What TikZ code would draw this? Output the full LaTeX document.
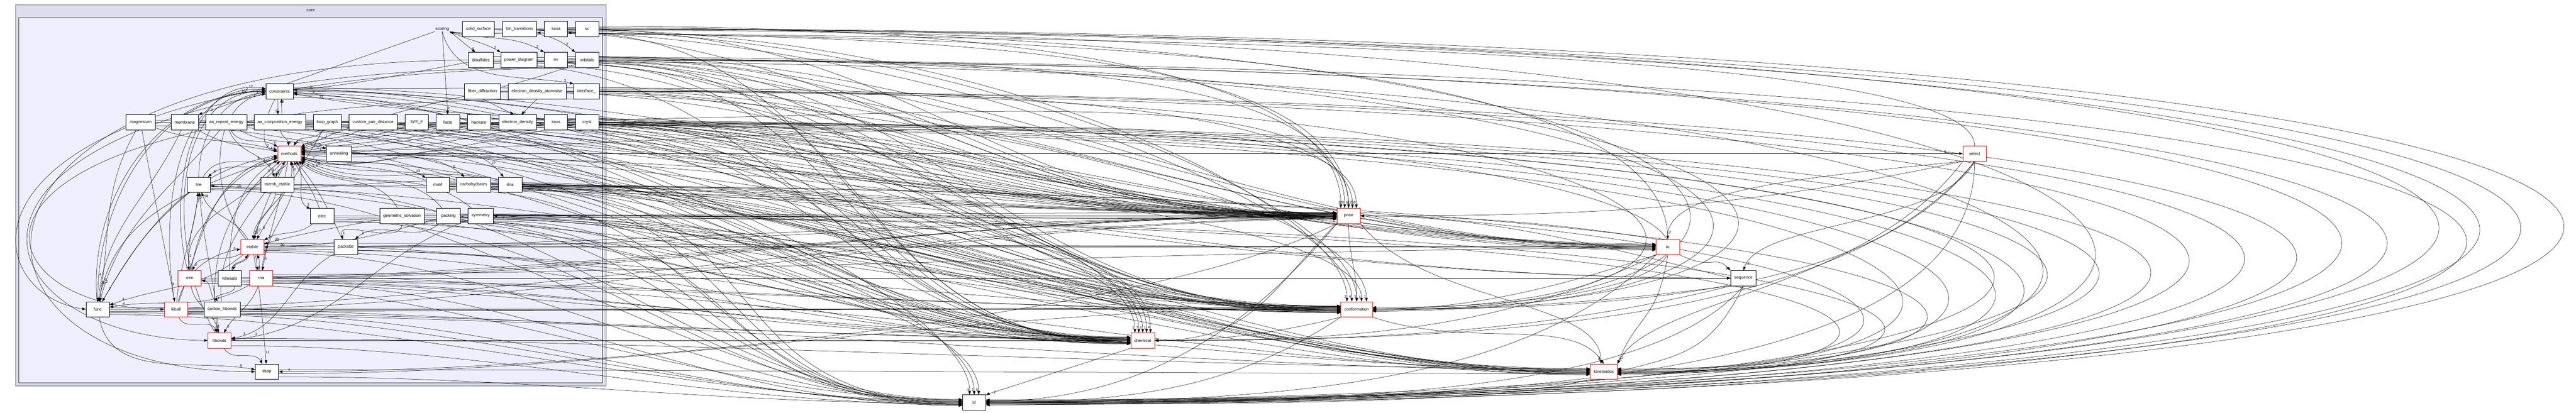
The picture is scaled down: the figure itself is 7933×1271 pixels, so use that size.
\documentclass[tikz,border=0pt]{standalone}
\usepackage{fontspec}
\setmainfont{Liberation Sans}
\usetikzlibrary{arrows.meta}

\definecolor{coreout}{RGB}{221,221,238}
\definecolor{corein}{RGB}{238,238,255}

\pgfdeclarelayer{clusters}
\pgfdeclarelayer{edges}
\pgfsetlayers{clusters,edges,main}

\tikzset{
  dirbox/.style={draw=black, fill=white, line width=1pt, minimum width=72pt, minimum height=47pt, inner xsep=11pt, inner ysep=2pt, font=\fontsize{13}{15}\selectfont},
  dirred/.style={dirbox, draw=red},
  dirname/.style={font=\fontsize{13}{15}\selectfont, inner sep=2pt},
  dep/.style={draw=black, line width=0.8pt, -{Triangle[length=11pt,width=8pt]}},
  depwide/.style={dep, line width=1.4pt},
  cnt/.style={font=\fontsize{11}{11}\selectfont, inner sep=1pt},
}

\begin{document}
\begin{tikzpicture}[x=1pt,y=1pt]
			%%%%% START %%%%%
			\useasboundingbox (0,0) rectangle (7933,-1271);
			
			% core cluster
			\begin{pgfonlayer}{clusters}
			\draw[fill=coreout, draw=black!60, line width=1.2pt] (48,-15) rectangle (1866,-1189);
			\draw[fill=corein, draw=black!80, line width=1.2pt] (57,-54) rectangle (1856,-1179);
			\end{pgfonlayer}
			\node[dirname] (core) at (957,-33) {core};
			
			% scoring and its subdirs
			\node[dirname] (scoring) at (1362,-89) {scoring};
			\node[dirbox] (solidsurface) at (1473,-89) {solid\_surface};
			\node[dirbox] (bintransitions) at (1600,-89) {bin\_transitions};
			\node[dirbox] (sasa) at (1712,-89) {sasa};
			\node[dirbox] (sc) at (1808,-89) {sc};
			
			\node[dirbox] (disulfides) at (1481,-185) {disulfides};
			\node[dirbox] (powerdiagram) at (1598,-185) {power\_diagram};
			\node[dirbox] (nv) at (1712,-185) {nv};
			\node[dirbox] (orbitals) at (1808,-185) {orbitals};
			
			\node[dirbox] (constraints) at (861,-281) {constraints};
			\node[dirbox] (fiberdiffraction) at (1486,-281) {fiber\_diffraction};
			\node[dirbox] (edatomwise) at (1654,-281) {electron\_density\_atomwise};
			\node[dirbox] (interface) at (1806,-281) {interface\_};
			
			\node[dirbox] (magnesium) at (433,-377) {magnesium};
			\node[dirbox] (membrane) at (569,-377) {membrane};
			\node[dirbox] (aarepeat) at (697,-377) {aa\_repeat\_energy};
			\node[dirbox] (aacomp) at (862,-377) {aa\_composition\_energy};
			\node[dirbox] (loopgraph) at (1008,-377) {loop\_graph};
			\node[dirbox] (custompair) at (1149,-377) {custom\_pair\_distance};
			\node[dirbox] (syme) at (1283,-377) {sym\_e};
			\node[dirbox] (facts) at (1379,-377) {facts};
			\node[dirbox] (hackaro) at (1475,-377) {hackaro};
			\node[dirbox] (edensity) at (1594,-377) {electron\_density};
			\node[dirbox] (saxs) at (1712,-377) {saxs};
			\node[dirbox] (cryst) at (1808,-377) {cryst};
			
			\node[dirred] (methods) at (891,-473) {methods};
			\node[dirbox] (annealing) at (1044,-473) {annealing};
			
			\node[dirbox] (trie) at (612,-569) {trie};
			\node[dirbox] (membetable) at (854,-569) {memb\_etable};
			\node[dirbox] (motif) at (1348,-569) {motif};
			\node[dirbox] (carbohydrates) at (1459,-569) {carbohydrates};
			\node[dirbox] (dna) at (1571,-569) {dna};
			
			\node[dirbox] (elec) at (992,-665) {elec};
			\node[dirbox] (geomsolv) at (1238,-665) {geometric\_solvation};
			\node[dirbox] (packing) at (1381,-665) {packing};
			\node[dirbox] (symmetry) at (1480,-665) {symmetry};
			
			\node[dirred] (etable) at (777,-761) {etable};
			\node[dirbox] (packstat) at (1065,-761) {packstat};
			
			\node[dirred] (mm) at (584,-857) {mm};
			\node[dirbox] (vdwaals) at (707,-857) {vdwaals};
			\node[dirred] (rna) at (804,-857) {rna};
			
			\node[dirbox] (func) at (301,-953) {func};
			\node[dirred] (lkball) at (542,-953) {lkball};
			\node[dirbox] (carbonhbonds) at (684,-953) {carbon\_hbonds};
			
			\node[dirred] (hbonds) at (676,-1049) {hbonds};
			\node[dirbox] (dssp) at (822,-1145) {dssp};
			
			% dirs outside core/scoring
			\node[dirred] (select) at (6081,-473) {select};
			\node[dirred] (pose) at (4153,-665) {pose};
			\node[dirred] (io) at (5136,-761) {io};
			\node[dirbox] (sequence) at (5369,-857) {sequence};
			\node[dirred] (conformation) at (4178,-953) {conformation};
			\node[dirred] (chemical) at (3519,-1049) {chemical};
			\node[dirred] (kinematics) at (4939,-1145) {kinematics};
			\node[dirbox] (id) at (3000,-1240) {id};
			
			\begin{pgfonlayer}{edges}
			% scoring
			\draw[dep] (scoring.south east) -- node[cnt,pos=.85,right]{6} (disulfides.125);
			\draw[dep] (scoring.south east) to[out=-25,in=150] node[cnt,pos=.9,above]{2} (powerdiagram.north west);
			\draw[dep] (scoring.south east) to[out=-15,in=150] node[cnt,pos=.93,above]{2} (nv.north west);
			\draw[dep] (scoring.south east) to[out=-10,in=140] node[cnt,pos=.93,above]{2} (orbitals.north west);
			\draw[dep] (scoring.south) to[out=-75,in=170] node[cnt,pos=.95,above]{2} (interface.150);
			\draw[dep] (scoring.south) -- node[cnt,pos=.92,right]{2} (facts.north);
			\draw[dep] (scoring.south west) -- node[cnt,pos=.95,right]{2} (membrane.north east);
			\draw[dep] (fiberdiffraction.south) -- node[cnt,pos=.85,right]{1} (edensity.115);
			\draw[dep] (edatomwise.south) -- node[cnt,pos=.85,right]{1} (edensity.65);
			\draw[dep] ([xshift=-6pt]constraints.south) -- node[cnt,pos=.8,left]{5} ([xshift=-6pt]aacomp.north);
			\draw[dep] ([xshift=6pt]aacomp.north) -- node[cnt,pos=.8,right]{2} ([xshift=6pt]constraints.south);
			
			% inside core
			\foreach \a/\b/\o/\i/\l in {magnesium/methods/-20/165/2, membrane/methods/-30/170/4, aarepeat/methods/-60/150/1,
			  constraints/methods/-120/170/6, trie/methods/60/-160/2, func/methods/60/-170/6, lkball/methods/70/-165/3,
			  mm/methods/80/-160/1, vdwaals/methods/90/-150/2, hbonds/methods/100/-140/5, carbonhbonds/methods/95/-120/1,
			  aacomp/methods/-85/95/9, loopgraph/methods/-120/60/4, custompair/methods/-150/30/1, syme/methods/-160/20/2,
			  facts/methods/-165/15/1, hackaro/methods/-165/10/3, edensity/methods/-170/5/1, saxs/methods/-170/0/2,
			  cryst/methods/-170/-5/1, orbitals/methods/-160/25/1, motif/methods/160/-15/2, carbohydrates/methods/165/-20/3,
			  dna/methods/165/-25/2, geomsolv/methods/120/-40/6, packing/methods/130/-35/5, symmetry/methods/140/-30/2,
			  packstat/methods/115/-50/1, elec/methods/110/-60/19, rna/methods/85/-75/3, etable/methods/80/-80/9,
			  methods/trie/-150/40/8, methods/membetable/-100/95/4, aarepeat/membetable/-70/110/5, aarepeat/annealing/-30/160/1,
			  methods/motif/-15/150/13, methods/carbohydrates/-20/140/2, methods/dna/-20/130/10, methods/elec/-50/150/1,
			  mm/trie/95/-95/10, lkball/trie/85/-95/7, hbonds/trie/95/-85/7, etable/trie/120/-70/58, dna/trie/175/-5/10,
			  methods/etable/-115/75/17, membetable/etable/-100/85/19, loopgraph/etable/-120/60/6, geomsolv/etable/-170/15/39,
			  packing/etable/-165/0/30, elec/etable/-140/30/5, vdwaals/etable/80/-120/2, rna/etable/100/-60/2, lkball/etable/75/-170/5,
			  etable/mm/-150/70/2, methods/mm/-130/95/2, carbonhbonds/mm/130/-10/2,
			  magnesium/func/-120/80/2, constraints/func/180/90/4, methods/func/-160/80/5, membrane/func/-115/85/25,
			  aarepeat/func/-130/75/2, trie/func/-140/60/7, rna/func/-150/10/4, etable/func/-140/20/4,
			  magnesium/lkball/-80/100/8, lkball/hbonds/-70/110/5, mm/hbonds/-80/100/2, rna/hbonds/-110/60/5,
			  packstat/hbonds/-150/10/3, symmetry/hbonds/-160/5/2, hbonds/dssp/-60/120/1, func/dssp/-80/170/6, etable/dssp/-80/95/11,
			  func/constraints/95/180/10, hbonds/constraints/120/180/4, etable/constraints/130/-170/1, lkball/constraints/100/175/2,
			  mm/constraints/105/170/12, trie/constraints/90/-175/1, disulfides/constraints/-170/5/1, edensity/constraints/170/-5/4,
			  cryst/constraints/175/-10/12, packing/packstat/-140/40/2, geomsolv/packstat/-90/110/1, vdwaals/carbonhbonds/-60/120/1,
			  etable/rna/-70/110/2, methods/rna/-100/80/5, etable/vdwaals/-110/70/2}
			  \draw[dep] (\a) to[out=\o,in=\i] node[cnt,pos=.92,above right]{\l} (\b);
			
			% long ones round the left side
			\draw[dep] (disulfides.west) .. controls (-250,-195) and (-200,-1150) .. (dssp.west);
			\draw[dep] (nv.south west) .. controls (-200,-210) and (-100,-900) .. (func.west);
			\draw[dep] (orbitals.south west) .. controls (-350,-225) and (-150,-1040) .. (hbonds.west);
			\draw[dep] (interface.south west) .. controls (-300,-300) and (-100,-950) .. (lkball.west);
			
			% straight ones
			\draw[dep] (annealing) -- (select) node[cnt,pos=.99,above left]{6};
			\draw[dep] (pose) -- (symmetry) node[cnt,pos=.99,below right]{2};
			\draw[dep] (packstat) -- (io);
			\draw[depwide] (carbonhbonds) -- (conformation);
			\draw[depwide] (hbonds) -- (chemical);
			\draw[dep] (rna.east) .. controls +(1500,0) and +(-1500,0) .. (sequence.west);
			
			% over the top
			\draw[dep] (pose.north) .. controls (4153,-112) and (2700,-108) .. ([yshift=-12pt]scoring.east) node[cnt,pos=.99,below]{1};
			\draw[dep] (io.north) .. controls (5136,-130) and (3000,-118) .. ([yshift=-12pt]bintransitions.east) node[cnt,pos=.99,below]{2};
			\draw[dep] (select.north) .. controls (6081,-128) and (3200,-120) .. ([yshift=-12pt]sasa.east) node[cnt,pos=.99,below]{2};
			
			% to pose
			\foreach \s [count=\k] in {solidsurface,sasa,disulfides,nv,orbitals,fiberdiffraction,edatomwise,interface,syme,facts,
			  hackaro,edensity,saxs,cryst,constraints,magnesium,membrane,aarepeat,aacomp,loopgraph,custompair,annealing,motif,
			  carbohydrates,dna,elec,geomsolv,packing,packstat,etable,mm,vdwaals,rna,trie,membetable,lkball,func}
			  \draw[dep] (\s.east) .. controls +(1100,0) and +(-1100,0) .. ([yshift={(mod(\k,9)-4)*2.5pt}]pose.west);
			\foreach \s/\l/\d in {sc/1/-24, orbitals/20/-12, edensity/6/0, constraints/12/12, methods/50/24}
			  \draw[dep] ([yshift=8pt]\s.east) .. controls +(1300,0) and +(0,420) .. ([xshift=\d pt]pose.north) node[cnt,pos=.99,above left]{\l};
			
			% to conformation
			\foreach \s [count=\k] in {disulfides,nv,orbitals,powerdiagram,interface,facts,hackaro,saxs,cryst,constraints,membrane,
			  aacomp,custompair,motif,carbohydrates,dna,geomsolv,packing,etable,rna,mm,trie,lkball,func,dssp,symmetry,elec}
			  \draw[dep] ([yshift=-6pt]\s.east) .. controls +(1100,0) and +(-1100,0) .. ([yshift={(mod(\k,9)-4)*2.5pt}]conformation.west);
			\foreach \s/\l/\d in {sasa/2/-30, solidsurface/6/-15, bintransitions/3/0, methods/1/15, fiberdiffraction/1/30}
			  \draw[dep] ([yshift=-3pt]\s.east) .. controls +(1300,0) and +(0,300) .. ([xshift=\d pt]conformation.north) node[cnt,pos=.99,above left]{\l};
			
			% to chemical
			\foreach \s [count=\k] in {sasa,nv,orbitals,disulfides,edensity,cryst,saxs,constraints,magnesium,membrane,aarepeat,aacomp,
			  loopgraph,custompair,carbohydrates,dna,elec,geomsolv,packstat,etable,mm,rna,lkball,func,trie,vdwaals,symmetry}
			  \draw[dep] ([yshift=-11pt]\s.east) .. controls +(900,0) and +(-900,0) .. ([yshift={(mod(\k,9)-4)*2.5pt}]chemical.west);
			\foreach \s/\l/\d in {methods/1/-24, constraints/7/-12, aacomp/1/0, motif/1/12, symmetry/4/24}
			  \draw[dep] ([yshift=3pt]\s.east) .. controls +(1000,0) and +(0,350) .. ([xshift=\d pt]chemical.north) node[cnt,pos=.99,above left]{\l};
			
			% to id
			\foreach \s [count=\k] in {hbonds,dssp,lkball,func,etable,mm,rna,carbohydrates,motif,dna,geomsolv,trie,membetable,
			  packing,symmetry,carbonhbonds,elec}
			  \draw[dep] ([yshift=-16pt]\s.east) .. controls +(800,0) and +(-800,0) .. ([yshift={(mod(\k,7)-3)*3pt}]id.west);
			\foreach \s/\l/\d in {constraints/3/-14, methods/2/0, elec/5/14}
			  \draw[dep] ([yshift=-19pt]\s.east) .. controls +(800,0) and +(0,300) .. ([xshift=\d pt]id.north) node[cnt,pos=.99,above left]{\l};
			
			% to kinematics
			\foreach \s [count=\k] in {constraints,methods,etable,func,rna,hbonds,motif,dna,carbohydrates,membrane,magnesium,
			  symmetry,packing,geomsolv,dssp,aacomp}
			  \draw[dep] ([yshift=6pt]\s.east) .. controls +(1200,0) and +(-1200,0) .. ([yshift={(mod(\k,7)-3)*3pt}]kinematics.west);
			
			% to io and sequence
			\foreach \s [count=\k] in {disulfides,nv,orbitals,interface,cryst,saxs,edensity,constraints,rna,etable,facts,hackaro}
			  \draw[dep] ([yshift=11pt]\s.east) .. controls +(1200,0) and +(-1200,0) .. ([yshift={(mod(\k,7)-3)*3pt}]io.west);
			\foreach \s in {dna,motif}
			  \draw[dep] ([yshift=-6pt]\s.east) .. controls +(1500,0) and +(-1500,0) .. (sequence.west);
			
			% round the right side
			\foreach \s/\xx [count=\k] in {sc/9700, solidsurface/9400, bintransitions/9550, sasa/9200, powerdiagram/9000, nv/8800,
			  orbitals/9300, interface/8600, edatomwise/8400, fiberdiffraction/8200, cryst/8000, saxs/7800, edensity/7600, hackaro/7400}
			  \draw[dep] (\s.east) .. controls (\s.east -| \xx,0) and (\xx,-1232) .. ([yshift={(mod(\k,7)-3)*2.5pt}]id.east);
			\foreach \s/\xx [count=\k] in {facts/6900, syme/6700, disulfides/7100, custompair/6500, dna/6300, motif/6600,
			  symmetry/6400, packing/6200, sc/7300, saxs/7000}
			  \draw[dep] ([yshift=-4pt]\s.east) .. controls ([yshift=-4pt]\s.east -| \xx,0) and (\xx,-1145) .. ([yshift={(mod(\k,7)-3)*3pt}]kinematics.east);
			\foreach \s/\xx [count=\k] in {sasa/5800, orbitals/6000, interface/5600, cryst/5700, nv/5900}
			  \draw[dep] ([yshift=4pt]\s.east) .. controls ([yshift=4pt]\s.east -| \xx,0) and (\xx,-953) .. ([yshift={(mod(\k,5)-2)*3pt}]conformation.east);
			
			% among the outer dirs
			\draw[dep] (pose.south) .. controls +(0,-100) and +(0,100) .. (conformation.north);
			\draw[dep] (pose.south west) .. controls +(-200,-200) and +(300,0) .. (chemical.east);
			\draw[dep] (pose.south west) .. controls +(-250,-300) and +(500,0) .. ([yshift=4pt]id.east);
			\draw[dep] (pose.south east) .. controls +(200,-250) and +(0,200) .. (kinematics.110) node[cnt,pos=.97,left]{3};
			\draw[dep] (pose.south west) .. controls +(-600,-300) and +(900,0) .. (dssp.east) node[cnt,pos=.99,above right]{4};
			\draw[dep] (conformation.south west) .. controls +(-200,-50) and +(200,0) .. (chemical.east);
			\draw[dep] (conformation.south west) .. controls +(-300,-200) and +(500,0) .. (id.east);
			\draw[dep] (conformation.south east) .. controls +(300,-100) and +(-100,150) .. (kinematics.north) node[cnt,pos=.97,left]{4};
			\draw[dep] (chemical.south west) -- (id.north east) node[cnt,pos=.95,right]{2};
			\draw[dep] (kinematics.south west) .. controls +(-300,-80) and +(700,0) .. ([yshift=-4pt]id.east);
			\draw[dep] (io.north west) .. controls +(-300,50) and +(300,0) .. (pose.east);
			\draw[dep] (io.south west) .. controls +(-300,-100) and +(300,0) .. (conformation.east);
			\draw[dep] (io.south west) .. controls +(-500,-250) and +(500,0) .. (chemical.east);
			\draw[dep] (io.south west) .. controls +(-400,-400) and +(900,0) .. (id.east);
			\draw[dep] (io.south) .. controls +(-30,-200) and +(60,150) .. (kinematics.north east) node[cnt,pos=.97,right]{1};
			\draw[dep] (io.south east) .. controls +(100,-50) and +(-50,50) .. (sequence.north west) node[cnt,pos=.95,left]{8};
			\draw[dep] (sequence.west) .. controls +(-400,100) and +(400,0) .. (pose.east);
			\draw[dep] (sequence.south west) .. controls +(-400,-50) and +(400,0) .. (conformation.east);
			\draw[dep] (sequence.south west) .. controls +(-600,-150) and +(600,0) .. (chemical.east);
			\draw[dep] (sequence.south) .. controls +(-300,-350) and +(1000,0) .. (id.east);
			\draw[dep] (sequence.south) .. controls +(-100,-200) and +(200,50) .. (kinematics.east);
			\draw[dep] (select.south west) .. controls +(-700,-150) and +(700,0) .. (pose.east);
			\draw[dep] (select.south) .. controls +(-300,-400) and +(800,0) .. (conformation.east);
			\draw[dep] (select.south) .. controls +(-400,-500) and +(1000,0) .. (chemical.east);
			\draw[dep] (select.south) .. controls +(0,-700) and +(1500,0) .. (id.east);
			\draw[dep] (select.south west) .. controls +(-300,-400) and +(100,200) .. (kinematics.north east) node[cnt,pos=.97,right]{2};
			\draw[dep] (select.south west) .. controls +(-500,-50) and +(0,150) .. (io.north) node[cnt,pos=.95,right]{2};
			\draw[dep] (select.south) .. controls +(-100,-200) and +(50,150) .. (sequence.north) node[cnt,pos=.95,right]{2};
			\end{pgfonlayer}
			
			%%%%% END %%%%%
\end{tikzpicture}
\end{document}
